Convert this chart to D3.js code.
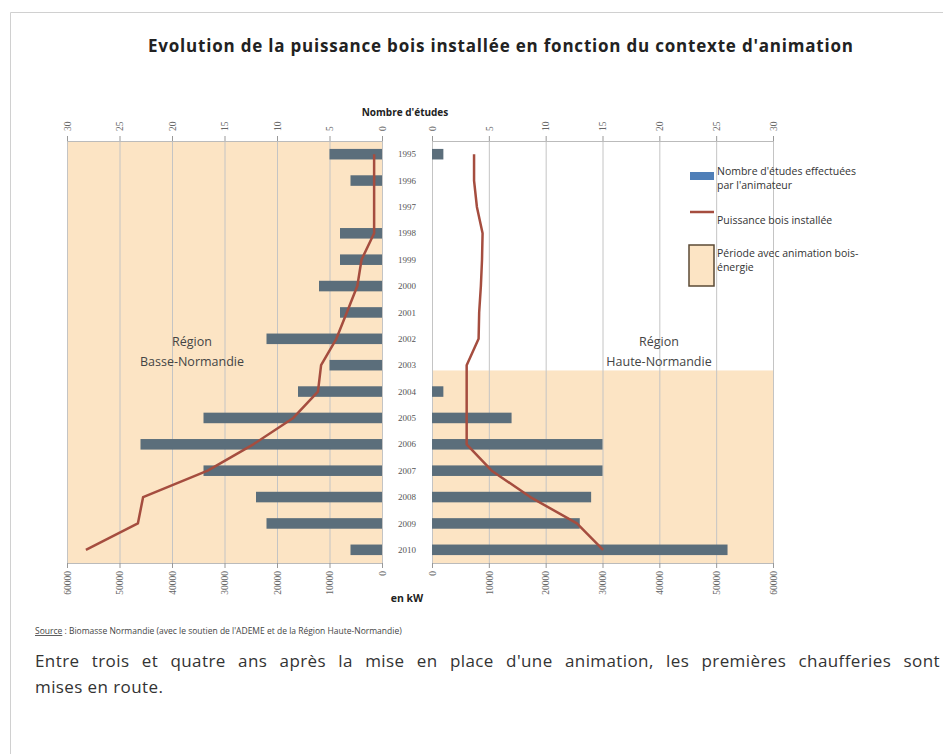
<!DOCTYPE html>
<html>
<head>
<meta charset="utf-8">
<script src="https://cdn.jsdelivr.net/npm/d3@7"></script>
<style>
  body { margin: 0; background: #fff; }
  svg { display: block; font-family: 'Open Sans', 'Noto Sans', sans-serif; }
</style>
</head>
<body>
<svg id="chart" width="943" height="754"></svg>
<script>
// Data
const years = ['1995', '1996', '1997', '1998', '1999', '2000', '2001', '2002',
  '2003', '2004', '2005', '2006', '2007', '2008', '2009', '2010']
const studiesBasse = [5, 3, 0, 4, 4, 6, 4, 11, 5, 8, 17, 23, 17, 12, 11, 3]
const studiesHaute = [1, 0, 0, 0, 0, 0, 0, 0, 0, 1, 7, 15, 15, 14, 13, 26]
const powerBasse = [1500, 1500, 1500, 1500, 3900, 4700, 6700, 8700, 11600, 12200,
  16900, 24500, 33200, 45500, 46500, 56400]
const powerHaute = [7400, 7400, 7900, 8900, 8800, 8600, 8300, 8200, 6100, 6100,
  6100, 6100, 10500, 17300, 25500, 30100]
const studyTicks = [0, 5, 10, 15, 20, 25, 30]
const powerTicks = [0, 10000, 20000, 30000, 40000, 50000, 60000]
const animStartBasse = '1995'
const animStartHaute = '2004'

const colours = {
  bar: '#5b6e7b',
  barLegend: '#4f7fb8',
  line: '#a54d3f',
  shade: '#fce4c4',
  grid: '#c4c4c4',
  text: '#333'
}

const svg = d3.select('#chart')
const dim = { top: 141, bottom: 563, leftA: 67, leftB: 382, rightA: 432, rightB: 773 }

// Scales
const y = d3.scaleBand()
  .domain(years)
  .range([dim.top, dim.bottom])
  .paddingInner(0.6)
  .paddingOuter(0.3)
const yMid = (yr) => y(yr) + y.bandwidth() / 2

const xStudL = d3.scaleLinear().domain([0, 30]).range([dim.leftB, dim.leftA])
const xStudR = d3.scaleLinear().domain([0, 30]).range([dim.rightA, dim.rightB])
const xPowL = d3.scaleLinear().domain([0, 60000]).range([dim.leftB, dim.leftA])
const xPowR = d3.scaleLinear().domain([0, 60000]).range([dim.rightA, dim.rightB])

// Frame
svg.append('path')
  .attr('d', 'M10.5,760 V12.5 H950')
  .attr('fill', 'none')
  .attr('stroke', '#d0d0d0')

svg.append('text')
  .attr('x', 148).attr('y', 52)
  .attr('font-size', 17)
  .attr('font-weight', 'bold')
  .attr('fill', '#222')
  .attr('textLength', 705)
  .attr('lengthAdjust', 'spacing')
  .text('Evolution de la puissance bois installée en fonction du contexte d\'animation')

// Shaded periods
function shadeTop (start) {
  return Math.max(dim.top, y(start) - y.step() + y.bandwidth())
}
svg.append('rect')
  .attr('x', dim.leftA).attr('width', dim.leftB - dim.leftA)
  .attr('y', shadeTop(animStartBasse))
  .attr('height', dim.bottom - shadeTop(animStartBasse))
  .attr('fill', colours.shade)
svg.append('rect')
  .attr('x', dim.rightA).attr('width', dim.rightB - dim.rightA)
  .attr('y', shadeTop(animStartHaute))
  .attr('height', dim.bottom - shadeTop(animStartHaute))
  .attr('fill', colours.shade)

// Grid lines
function drawGrid (scale) {
  svg.append('g')
    .selectAll('line')
    .data(studyTicks)
    .join('line')
    .attr('x1', (d) => scale(d) + 0.5).attr('x2', (d) => scale(d) + 0.5)
    .attr('y1', dim.top).attr('y2', dim.bottom)
    .attr('stroke', colours.grid)
    .attr('stroke-width', 1)
}
drawGrid(xStudL)
drawGrid(xStudR)

// Axes
function drawAxis (axis, yPos, scale, ticks, top) {
  let g = svg.append('g')
    .attr('transform', `translate(0,${yPos})`)
    .call(axis(scale).tickValues(ticks).tickSize(5).tickFormat(d3.format('d')))
  g.select('.domain').attr('stroke', '#bbb')
  g.selectAll('.tick line').attr('stroke', '#999')
  g.selectAll('.tick text')
    .attr('transform', 'rotate(-90)')
    .attr('x', top ? 10 : -8)
    .attr('y', 0)
    .attr('dy', '0.35em')
    .attr('text-anchor', top ? 'start' : 'end')
    .attr('font-size', 9.5)
    .attr('fill', '#666')
    .attr('font-family', '"Liberation Serif", serif')
}
drawAxis(d3.axisTop, dim.top, xStudL, studyTicks, true)
drawAxis(d3.axisTop, dim.top, xStudR, studyTicks, true)
drawAxis(d3.axisBottom, dim.bottom, xPowL, powerTicks, false)
drawAxis(d3.axisBottom, dim.bottom, xPowR, powerTicks, false)

svg.append('text')
  .attr('x', 405).attr('y', 116)
  .attr('text-anchor', 'middle')
  .attr('font-size', 10)
  .attr('font-weight', 'bold')
  .attr('fill', '#222')
  .text('Nombre d\'études')

svg.append('text')
  .attr('x', 407).attr('y', 602)
  .attr('text-anchor', 'middle')
  .attr('font-size', 10.5)
  .attr('font-weight', 'bold')
  .attr('fill', '#222')
  .text('en kW')

// Bars
svg.append('g')
  .selectAll('rect')
  .data(years)
  .join('rect')
  .attr('x', (d, i) => xStudL(studiesBasse[i]))
  .attr('width', (d, i) => xStudL(0) - xStudL(studiesBasse[i]))
  .attr('y', (d) => y(d))
  .attr('height', y.bandwidth())
  .attr('fill', colours.bar)

svg.append('g')
  .selectAll('rect')
  .data(years)
  .join('rect')
  .attr('x', xStudR(0))
  .attr('width', (d, i) => xStudR(studiesHaute[i]) - xStudR(0))
  .attr('y', (d) => y(d))
  .attr('height', y.bandwidth())
  .attr('fill', colours.bar)

// Year labels
svg.append('g')
  .selectAll('text')
  .data(years)
  .join('text')
  .attr('x', (dim.leftB + dim.rightA) / 2)
  .attr('y', (d) => yMid(d))
  .attr('dy', '0.35em')
  .attr('text-anchor', 'middle')
  .attr('font-size', 9)
  .attr('font-family', '"Liberation Serif", serif')
  .attr('fill', '#555')
  .text((d) => d)

// Power lines
function drawLine (scale, values) {
  let line = d3.line()
    .x((d, i) => scale(values[i]))
    .y((d) => yMid(d))
  svg.append('path')
    .datum(years)
    .attr('d', line)
    .attr('fill', 'none')
    .attr('stroke', colours.line)
    .attr('stroke-width', 2.5)
    .attr('stroke-linejoin', 'round')
}
drawLine(xPowL, powerBasse)
drawLine(xPowR, powerHaute)

// Region labels
function regionLabel (x, lines) {
  svg.append('text')
    .attr('x', x).attr('y', 346)
    .attr('text-anchor', 'middle')
    .attr('font-size', 12.5)
    .attr('fill', '#444')
    .selectAll('tspan')
    .data(lines)
    .join('tspan')
    .attr('x', x)
    .attr('dy', (d, i) => i ? 20 : 0)
    .text((d) => d)
}
regionLabel(192, ['Région', 'Basse-Normandie'])
regionLabel(659, ['Région', 'Haute-Normandie'])

// Legend
const legend = svg.append('g').attr('font-size', 10.5).attr('fill', colours.text)
legend.append('rect')
  .attr('x', 690).attr('y', 172).attr('width', 24).attr('height', 8)
  .attr('fill', colours.barLegend)
legend.append('text').attr('x', 717).attr('y', 175).text('Nombre d\'études effectuées')
legend.append('text').attr('x', 717).attr('y', 189).text('par l\'animateur')
legend.append('line')
  .attr('x1', 690).attr('x2', 714).attr('y1', 212).attr('y2', 212)
  .attr('stroke', colours.line).attr('stroke-width', 2.5)
legend.append('text').attr('x', 717).attr('y', 224).text('Puissance bois installée')
legend.append('rect')
  .attr('x', 689).attr('y', 245).attr('width', 25).attr('height', 41)
  .attr('fill', colours.shade)
  .attr('stroke', '#5b4a35').attr('stroke-width', 1.5)
legend.append('text').attr('x', 717).attr('y', 257).text('Période avec animation bois-')
legend.append('text').attr('x', 717).attr('y', 271).text('énergie')

// Source and comment
const src = svg.append('text')
  .attr('x', 35).attr('y', 634)
  .attr('font-size', 8.5)
  .attr('fill', '#444')
src.append('tspan').attr('text-decoration', 'underline').text('Source')
src.append('tspan').text(' : Biomasse Normandie (avec le soutien de l\'ADEME et de la Région Haute-Normandie)')

// Justified first line: stretch word spacing to the right margin
const firstLine = 'Entre trois et quatre ans après la mise en place d\'une animation, les premières chaufferies sont'
const para = svg.append('text')
  .attr('x', 35).attr('y', 667)
  .attr('font-size', 17)
  .attr('letter-spacing', 0.4)
  .attr('fill', '#333')
  .text(firstLine)
const natural = para.node().getComputedTextLength()
const gaps = firstLine.split(' ').length - 1
para.attr('word-spacing', Math.max(0, (905 - natural) / gaps))

svg.append('text')
  .attr('x', 35).attr('y', 693)
  .attr('font-size', 17)
  .attr('letter-spacing', 0.4)
  .attr('fill', '#333')
  .text('mises en route.')
</script>
</body>
</html>
